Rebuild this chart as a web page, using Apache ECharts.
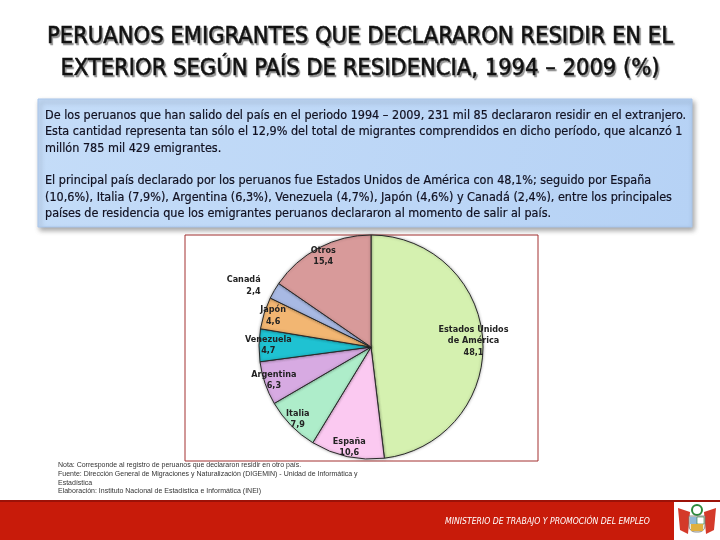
<!DOCTYPE html>
<html>
<head>
<meta charset="utf-8">
<script src="https://cdn.jsdelivr.net/npm/echarts@6/dist/echarts.min.js"></script>
<style>
html,body{margin:0;padding:0;background:#fff;}
#c{width:720px;height:540px;}
</style>
</head>
<body>
<div id="c"></div>
<script>
// ---- data ----
var categories = ['Estados Unidos\nde América', 'España', 'Italia', 'Argentina', 'Venezuela', 'Japón', 'Canadá', 'Otros'];
var values = [48.1, 10.6, 7.9, 6.3, 4.7, 4.6, 2.4, 15.4];
var colors = ['#d5f1b0', '#fbc9f1', '#aeedca', '#d7aae2', '#1fc2d2', '#f2b672', '#a8b9e3', '#d89a9a'];

var titleLines = ['PERUANOS EMIGRANTES QUE DECLARARON RESIDIR EN EL', 'EXTERIOR SEGÚN PAÍS DE RESIDENCIA, 1994 – 2009 (%)'];
var bodyLines = [
  'De los peruanos que han salido del país en el periodo 1994 – 2009, 231 mil 85 declararon residir en el extranjero.',
  'Esta cantidad representa tan sólo el 12,9% del total de migrantes comprendidos en dicho período, que alcanzó 1',
  'millón 785 mil 429 emigrantes.',
  '',
  'El principal país declarado por los peruanos fue Estados Unidos de América con 48,1%; seguido por España',
  '(10,6%), Italia (7,9%), Argentina (6,3%), Venezuela (4,7%), Japón (4,6%) y Canadá (2,4%), entre los principales',
  'países de residencia que los emigrantes peruanos declararon al momento de salir al país.'
];
var noteLines = [
  'Nota: Corresponde al registro de peruanos que declararon residir en otro país.',
  'Fuente: Dirección General de Migraciones y Naturalización (DIGEMIN) - Unidad de Informática y',
  'Estadística',
  'Elaboración: Instituto Nacional de Estadística e Informática (INEI)'
];
var footerText = 'MINISTERIO DE TRABAJO Y PROMOCIÓN DEL EMPLEO';

// ---- build ----
var chart = echarts.init(document.getElementById('c'));
var R = 112;
var CX = 371, CY = 347;
var FONT = '"Liberation Sans Narrow", "DejaVu Sans Condensed", sans-serif';

function fmt(p) { return p.name + '\n' + String(p.value).replace('.', ','); }

var mainData = categories.map(function (c, i) {
  var d = { name: c, value: values[i], itemStyle: { color: colors[i] } };
  if (c === 'Canadá') {
    d.label = { show: true, position: 'outside' };
    d.labelLine = { show: false, length: 10, length2: 0 };
  }
  return d;
});
var labelData = categories.map(function (c, i) {
  return { name: c, value: values[i], label: { show: c !== 'Canadá' } };
});

var graphics = [];
// title
titleLines.forEach(function (t, i) {
  graphics.push({
    type: 'text', left: 'center', top: 25 + i * 32,
    style: { text: t, font: '23.5px ' + FONT, fill: '#111', stroke: '#111', lineWidth: 0.5,
      textShadowColor: 'rgba(0,0,0,0.4)', textShadowOffsetX: 1.5, textShadowOffsetY: 1.5, textShadowBlur: 1 }
  });
});
// text box
graphics.push({
  type: 'rect', shape: { x: 38, y: 99, width: 654, height: 128 },
  style: {
    fill: new echarts.graphic.LinearGradient(0, 0, 1, 1, [
      { offset: 0, color: '#c4dcf8' }, { offset: 1, color: '#b6d2f5' }]),
    stroke: '#a9c6ec', lineWidth: 1,
    shadowBlur: 5, shadowOffsetX: 2, shadowOffsetY: 3, shadowColor: 'rgba(0,0,0,0.35)'
  }
});
bodyLines.forEach(function (t, i) {
  graphics.push({
    type: 'text', x: 45, y: 109 + i * 16.4,
    style: { text: t, font: '12.5px ' + FONT, fill: '#101020', stroke: '#101020', lineWidth: 0.2 }
  });
});
// chart frame
graphics.push({
  type: 'rect', z: -1, shape: { x: 185, y: 235, width: 353, height: 226 },
  style: { fill: '#fff', stroke: '#a33030', lineWidth: 1 }
});
// notes
noteLines.forEach(function (t, i) {
  graphics.push({
    type: 'text', x: 58, y: 462 + i * 8.6,
    style: { text: t, font: '7px "Liberation Sans", sans-serif', fill: '#333' }
  });
});
// footer
graphics.push({ type: 'rect', shape: { x: 0, y: 500, width: 720, height: 40 }, style: { fill: '#c81b0a' } });
graphics.push({ type: 'rect', shape: { x: 0, y: 500, width: 720, height: 2 }, style: { fill: '#9c1208' } });
graphics.push({
  type: 'text', x: 445, y: 517,
  style: { text: footerText, font: 'italic 8.6px ' + FONT, fill: '#fff' }
});
// emblem
graphics.push({ type: 'rect', shape: { x: 674, y: 502, width: 46, height: 38 }, style: { fill: '#fff' } });
graphics.push({ type: 'polygon', shape: { points: [[678, 508], [690, 512], [688, 534], [680, 530]] }, style: { fill: '#d43a2a' } });
graphics.push({ type: 'polygon', shape: { points: [[716, 508], [704, 512], [706, 534], [714, 530]] }, style: { fill: '#d43a2a' } });
graphics.push({ type: 'circle', shape: { cx: 697, cy: 510, r: 5 }, style: { fill: 'none', stroke: '#2c8a3a', lineWidth: 2 } });
graphics.push({ type: 'rect', shape: { x: 689, y: 516, width: 16, height: 16, r: [0, 0, 6, 6] }, style: { fill: '#e8e8e0', stroke: '#777', lineWidth: 0.8 } });
graphics.push({ type: 'rect', shape: { x: 690, y: 517, width: 7, height: 7 }, style: { fill: '#8fb8d8' } });
graphics.push({ type: 'rect', shape: { x: 697, y: 517, width: 7, height: 7 }, style: { fill: '#fff', stroke: '#2c7a3a', lineWidth: 0.6 } });
graphics.push({ type: 'rect', shape: { x: 691, y: 524, width: 12, height: 7 }, style: { fill: '#e0b040' } });

var option = {
  animation: false,
  backgroundColor: '#fff',
  graphic: graphics,
  series: [
    {
      type: 'pie', center: [CX, CY], radius: [0, R], startAngle: 90, clockwise: true,
      data: mainData,
      itemStyle: { borderColor: '#2a2a2a', borderWidth: 1, shadowBlur: 3, shadowColor: 'rgba(0,0,0,0.3)' },
      label: { show: false, formatter: fmt, fontFamily: FONT, fontWeight: 'bold', fontSize: 9, color: '#222', lineHeight: 11.5, align: 'center' },
      labelLine: { show: false },
      emphasis: { disabled: true }
    },
    {
      type: 'pie', center: [CX, CY], radius: [R * 0.62, R * 1.16], startAngle: 90, clockwise: true,
      silent: true, z: 3,
      data: labelData,
      itemStyle: { color: 'rgba(0,0,0,0)', borderWidth: 0 },
      label: { position: 'inside', formatter: fmt, fontFamily: FONT, fontWeight: 'bold', fontSize: 9, color: '#222', lineHeight: 11.5, align: 'center' },
      labelLine: { show: false },
      emphasis: { disabled: true }
    }
  ]
};
chart.setOption(option);
</script>
</body>
</html>
